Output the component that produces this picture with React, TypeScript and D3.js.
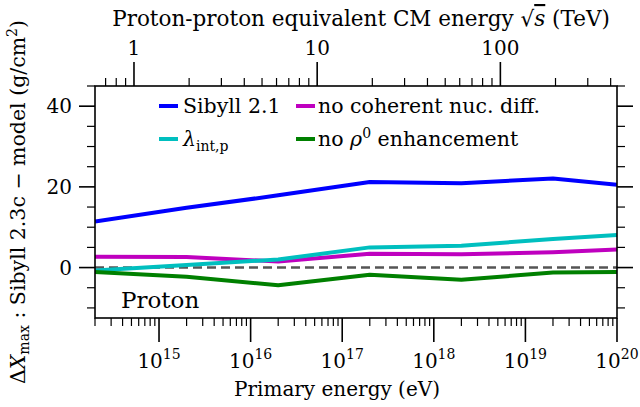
import React from "react";
import * as d3 from "d3";

// ---- data ----
const energies = [2e14, 2e15, 2e16, 2e17, 2e18, 2e19, 1e20];
const sibyll21 = [11.4, 14.8, 17.9, 21.2, 20.9, 22.1, 20.5];
const lambdaInt = [-0.7, 0.65, 2.0, 5.0, 5.4, 7.1, 8.1];
const noCoherent = [2.7, 2.6, 1.5, 3.4, 3.3, 3.8, 4.5];
const noRho = [-1.1, -2.3, -4.4, -1.8, -3.0, -1.25, -1.1];

const seriesNames = ["Sibyll 2.1", "λint,p", "no coherent nuc. diff.", "no ρ0 enhancement"];
const xMajorExps = [15, 16, 17, 18, 19, 20];
const yMajorTicks = [0, 20, 40];
const topMajorTicks = [1, 10, 100];

const W = 640, H = 407;
const L = 95, R = 617, T = 86, B = 318;
const FONT = "'DejaVu Serif', serif";
const MP = 0.938272; // GeV

export default function App() {
  const x = d3.scaleLog().domain([2e14, 1e20]).range([L, R]);
  const y = d3.scaleLinear().domain([-12.5, 45]).range([B, T]);

  const line = d3
    .line<[number, number]>()
    .x((d) => x(d[0]))
    .y((d) => y(d[1]));

  const series = [
    { name: "sib", values: sibyll21, color: "#0000ff" },
    { name: "mag", values: noCoherent, color: "#bf00bf" },
    { name: "cyan", values: lambdaInt, color: "#00bfbf" },
    { name: "green", values: noRho, color: "#008000" },
  ];

  const xMinor: number[] = [];
  for (let e = 14; e <= 19; e++) {
    for (let m = 2; m <= 9; m++) {
      const v = m * Math.pow(10, e);
      if (v >= 2e14 && v <= 1e20) xMinor.push(v);
    }
  }
  const yMinor = d3.range(-10, 46, 5).filter((v) => !yMajorTicks.includes(v));

  const sToE = (tev: number) => ((tev * 1000) ** 2 / (2 * MP)) * 1e9;
  const topMinor: number[] = [];
  for (let e = -1; e <= 2; e++) {
    for (let m = 2; m <= 9; m++) {
      const v = m * Math.pow(10, e);
      const E = sToE(v);
      if (E >= 2e14 && E <= 1e20) topMinor.push(v);
    }
  }

  const majLen = 16, minLen = 8;
  const xMajLen = 24;

  return (
    <svg
      width={W}
      height={H}
      style={{ position: "absolute", left: 0, top: 0, background: "#fff", fontFamily: FONT }}
    >
      <rect x={0} y={0} width={W} height={H} fill="#fff" />
      <defs>
        <clipPath id="plot">
          <rect x={L} y={T} width={R - L} height={B - T} />
        </clipPath>
      </defs>

      <line x1={L} x2={R} y1={y(0)} y2={y(0)} stroke="#555" strokeWidth={2.5} strokeDasharray="9,5" />

      <g clipPath="url(#plot)">
        {series.map((s) => (
          <path
            key={s.name}
            d={line(energies.map((e, i) => [e, s.values[i]] as [number, number])) || ""}
            fill="none"
            stroke={s.color}
            strokeWidth={4}
            strokeLinejoin="round"
          />
        ))}
      </g>

      <rect x={L} y={T} width={R - L} height={B - T} fill="none" stroke="#000" strokeWidth={1.6} />

      {yMajorTicks.map((v) => (
        <g key={"ym" + v}>
          <line x1={L - majLen} x2={L} y1={y(v)} y2={y(v)} stroke="#000" strokeWidth={1.6} />
          <line x1={R} x2={R + majLen} y1={y(v)} y2={y(v)} stroke="#000" strokeWidth={1.6} />
          <text x={72} y={y(v)} dy="0.36em" textAnchor="end" fontSize={20}>
            {v}
          </text>
        </g>
      ))}
      {yMinor.map((v) => (
        <g key={"yn" + v}>
          <line x1={L - minLen} x2={L} y1={y(v)} y2={y(v)} stroke="#000" strokeWidth={1.2} />
          <line x1={R} x2={R + minLen} y1={y(v)} y2={y(v)} stroke="#000" strokeWidth={1.2} />
        </g>
      ))}

      {xMajorExps.map((e) => {
        const xv = x(Math.pow(10, e));
        return (
          <g key={"xm" + e}>
            <line x1={xv} x2={xv} y1={B} y2={B + xMajLen} stroke="#000" strokeWidth={1.6} />
            <text x={xv} y={368} textAnchor="middle" fontSize={20}>
              10
              <tspan dy={-9} fontSize={14}>
                {e}
              </tspan>
            </text>
          </g>
        );
      })}
      {xMinor.map((v, i) => (
        <line key={"xn" + i} x1={x(v)} x2={x(v)} y1={B} y2={B + minLen} stroke="#000" strokeWidth={1.2} />
      ))}

      {topMajorTicks.map((v) => {
        const xv = x(sToE(v));
        return (
          <g key={"tm" + v}>
            <line x1={xv} x2={xv} y1={T} y2={T - xMajLen} stroke="#000" strokeWidth={1.6} />
            <text x={xv} y={55} textAnchor="middle" fontSize={20}>
              {v}
            </text>
          </g>
        );
      })}
      {topMinor.map((v, i) => {
        const xv = x(sToE(v));
        return <line key={"tn" + i} x1={xv} x2={xv} y1={T} y2={T - minLen} stroke="#000" strokeWidth={1.2} />;
      })}

      <text x={361} y={26} textAnchor="middle" fontSize={21.5}>
        Proton-proton equivalent CM energy <tspan>√</tspan>
        <tspan fontStyle="italic" textDecoration="overline">s</tspan> (TeV)
      </text>
      <text x={337} y={396} textAnchor="middle" fontSize={20}>
        Primary energy (eV)
      </text>
      <text transform={`translate(25, ${(T + B) / 2}) rotate(-90)`} textAnchor="middle" fontSize={20.5}>
        Δ<tspan fontStyle="italic">X</tspan>
        <tspan fontSize={14} dy={4}>max</tspan>
        <tspan dy={-4}> : Sibyll 2.3c − model (g/cm</tspan>
        <tspan fontSize={14} dy={-8}>2</tspan>
        <tspan dy={8}>)</tspan>
      </text>

      <text x={121} y={308} fontSize={23}>
        Proton
      </text>

      <g fontSize={20.5}>
        <line x1={159} x2={178} y1={106} y2={106} stroke="#0000ff" strokeWidth={4} />
        <text x={183} y={106} dy="0.36em">
          {seriesNames[0]}
        </text>
        <line x1={159} x2={178} y1={139} y2={139} stroke="#00bfbf" strokeWidth={4} />
        <text x={183} y={139} dy="0.36em">
          <tspan fontStyle="italic">λ</tspan>
          <tspan fontSize={14} dy={5}>int,p</tspan>
        </text>
        <line x1={296} x2={315} y1={106} y2={106} stroke="#bf00bf" strokeWidth={4} />
        <text x={318} y={106} dy="0.36em">
          {seriesNames[2]}
        </text>
        <line x1={296} x2={315} y1={139} y2={139} stroke="#008000" strokeWidth={4} />
        <text x={318} y={139} dy="0.36em">
          no <tspan fontStyle="italic">ρ</tspan>
          <tspan fontSize={14} dy={-8}>0</tspan>
          <tspan dy={8}> enhancement</tspan>
        </text>
      </g>
    </svg>
  );
}
